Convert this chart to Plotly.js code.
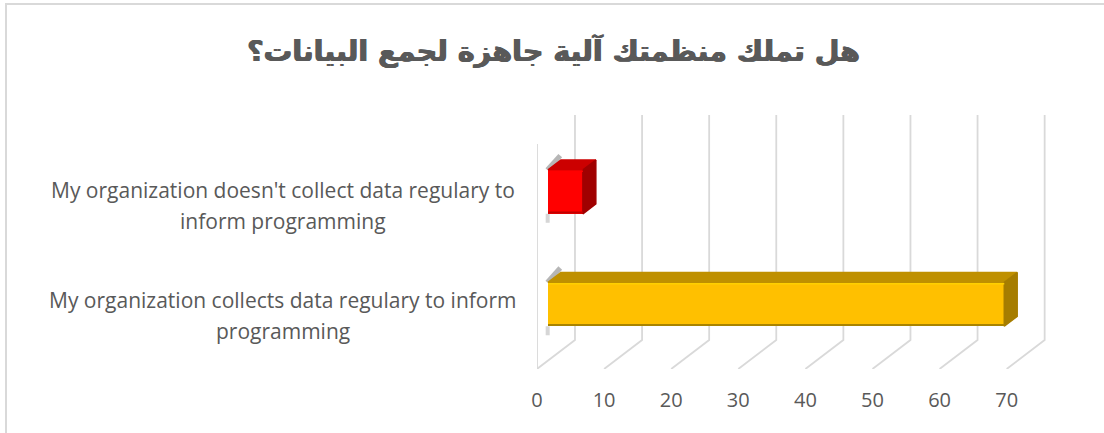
<!DOCTYPE html>
<html><head><meta charset="utf-8">
<script src="https://cdn.plot.ly/plotly-3.0.1.min.js"></script>
<style>html,body{margin:0;padding:0;background:#fff}#frame{position:absolute;left:5px;top:3px;width:1200px;height:500px;border:2px solid #d9d9d9;pointer-events:none}#clip{position:absolute;left:0;top:0;width:1104px;height:433px;overflow:hidden}#c{position:absolute;left:0;top:0;width:1104px;height:433px}</style>
</head><body><div id="clip"><div id="c"></div><div id="frame"></div></div>
<script>
const titleText = "هل تملك منظمتك آلية جاهزة لجمع البيانات؟";
const categories = ["My organization collects data regulary to inform programming","My organization doesn't collect data regulary to inform programming"];
const labelLines = [["My organization collects data regulary to inform","programming"],["My organization doesn't collect data regulary to","inform programming"]];
const values = [68, 5.2];
const faceColors = ["#ffc000","#ff0000"];
const topColors = ["#bf9000","#cc0000"];
const sideColors = ["#a67d00","#a00000"];
const highlightColors = ["#ffd000","#ff0000"];
const edgeColors = ["#a98400","#c00000"];
const xTicks = [0,10,20,30,40,50,60,70];

const depthX = 5.66, depthY = 0.258, wallHeight = 2;
const barNear = 0.29, barFar = 0.63, barThick = 0.39;
const px = (v,d) => v + d*depthX;
const py = (c,d) => c + d*depthY;
const traces = [];
const over = {xaxis:'x2',yaxis:'y2'};
const line = (xs,ys,color,width,axes) => traces.push(Object.assign({type:'scatter',mode:'lines',x:xs,y:ys,line:{color,width},hoverinfo:'skip',showlegend:false},axes||{}));
const poly = (xs,ys,color) => traces.push(Object.assign({type:'scatter',mode:'lines',x:xs,y:ys,fill:'toself',fillcolor:color,line:{color,width:1.5},hoverinfo:'skip',showlegend:false},over));

// back wall and floor drawn on the base axes; bars on an overlay above them
xTicks.forEach(t => line([px(t,0),px(t,1),px(t,1)],[py(0,0),py(0,1),py(wallHeight,1)],'#d9d9d9',1.8));
line([px(0,0),px(0,0)],[0,wallHeight],'#d9d9d9',1.8);

values.forEach((v,i) => {
  const c = i+0.5, h = barThick/2;
  const b = py(c,barNear)-h, t = py(c,barNear)+h;
  const x0 = px(0,barNear), x1 = px(v,barNear);
  const dx = px(0,barFar)-x0, dy = (barFar-barNear)*depthY;
  line([x0-0.05,x0-0.05],[b-0.08,b],'rgba(120,120,120,0.3)',4);
  line([x0-0.1,x0+dx-0.1],[t,t+dy+0.04],'rgba(110,110,110,0.5)',5);
  poly([x0,x0+dx,x1+dx,x1,x0],[t,t+dy,t+dy,t,t],topColors[i]);
  poly([x1,x1+dx,x1+dx,x1,x1],[t,t+dy,b+dy,b,t],sideColors[i]);
  traces.push(Object.assign({type:'bar',orientation:'h',y:[py(c,barNear)],x:[v],base:[x0],width:barThick,marker:{color:faceColors[i],line:{width:0}},name:categories[i],hoverinfo:'skip',showlegend:false},over));
  line([x0,x1],[t-0.012,t-0.012],highlightColors[i],1.5,over);
  line([x0,x1],[b+0.012,b+0.012],edgeColors[i],2,over);
});

const annotations = [];
labelLines.forEach((ls,i) => ls.forEach((txt,j) => annotations.push({
  xref:'paper',yref:'y',x:-0.5,y:i+0.5,yshift:(i===0?-3:-5)+(j===0?15.5:-15.5),text:txt,showarrow:false,xanchor:'center',yanchor:'middle',
  font:{family:'"Open Sans", sans-serif',size:21,color:'#595959'}
})));

const xr = [0,75.86], yr = [0,2.258];
const layout = {
  width:1104,height:433,
  margin:{l:537,r:58,t:115,b:64,pad:0},
  paper_bgcolor:'#fff',plot_bgcolor:'rgba(0,0,0,0)',
  showlegend:false,bargap:0,barmode:'overlay',
  title:{text:titleText,font:{family:'"DejaVu Sans", sans-serif',size:28.5,color:'#595959',weight:'bold',shadow:'0.6px 0 0 #595959, -0.6px 0 0 #595959'},x:0.5014,xanchor:'center',y:0.882,yanchor:'middle'},
  xaxis:{range:xr,tickvals:xTicks,ticktext:xTicks.map(String),showgrid:false,zeroline:false,showline:false,ticks:'',tickfont:{family:'"Open Sans", sans-serif',size:20,color:'#595959'},fixedrange:true,ticklabelstandoff:17,automargin:false},
  yaxis:{range:yr,showgrid:false,zeroline:false,showline:false,showticklabels:false,ticks:'',fixedrange:true,automargin:false},
  xaxis2:{range:xr,overlaying:'x',anchor:'y2',visible:false,fixedrange:true},
  yaxis2:{range:yr,overlaying:'y',anchor:'x2',visible:false,fixedrange:true},
  annotations
};
Plotly.newPlot('c',traces,layout,{displayModeBar:false,staticPlot:true});
</script></body></html>
